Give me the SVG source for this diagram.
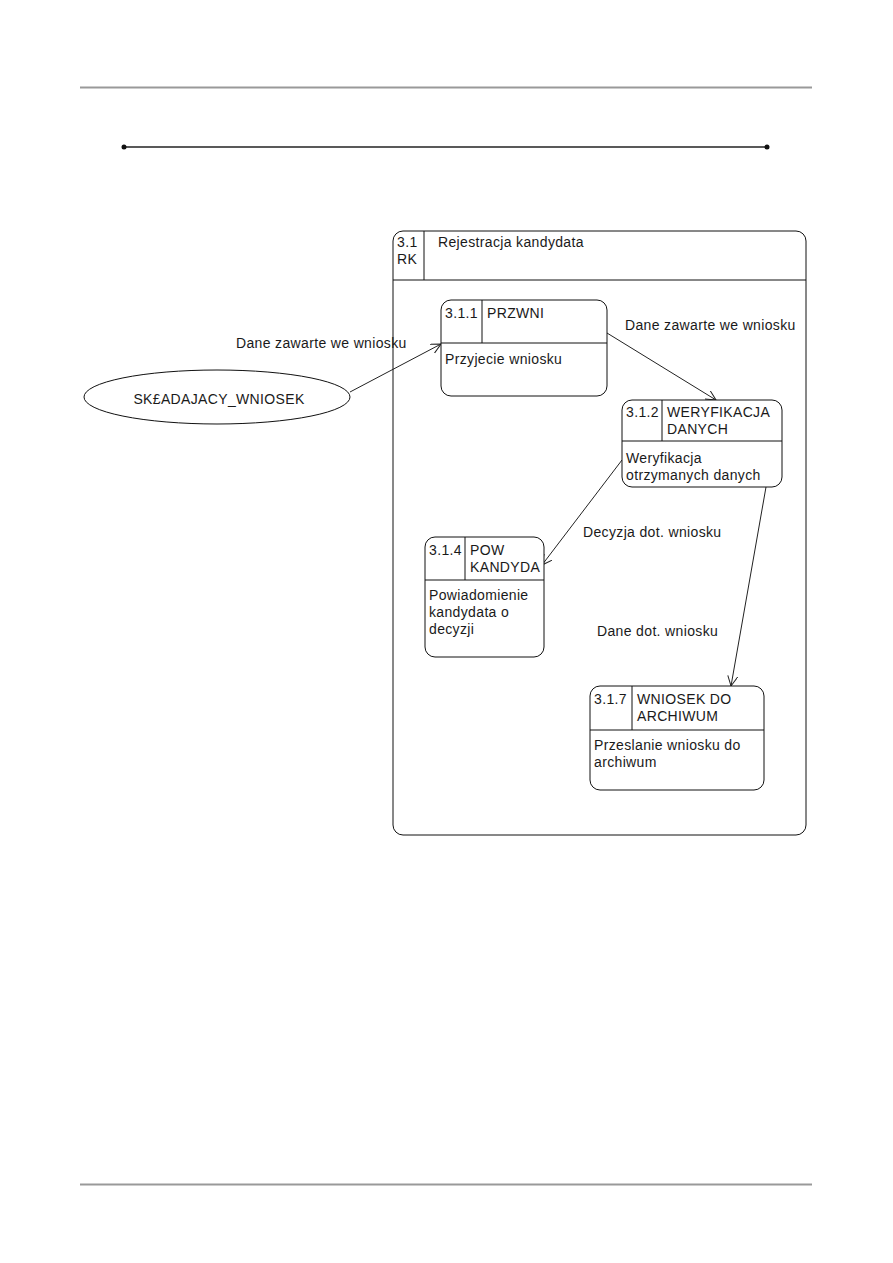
<svg xmlns="http://www.w3.org/2000/svg" width="893" height="1263" viewBox="0 0 893 1263">
<style>
text{font-family:"Liberation Sans",Arial,sans-serif;font-size:14px;letter-spacing:0.35px;fill:#1a1a1a}
.box{fill:#fff;stroke:#111;stroke-width:1}
.ln{stroke:#111;stroke-width:1;fill:none}
.c{stroke:#222;stroke-width:1;fill:none;marker-end:url(#arr)}
</style>
<defs>
<marker id="arr" markerWidth="12" markerHeight="12" refX="10" refY="5" orient="auto" markerUnits="userSpaceOnUse">
<path d="M0,0 L10,5 L0,10" fill="none" stroke="#222" stroke-width="1"/>
</marker>
</defs>
<rect width="893" height="1263" fill="#fff"/>
<line x1="80" y1="87.5" x2="812" y2="87.5" stroke="#999" stroke-width="2"/>
<line x1="80" y1="1184.5" x2="812" y2="1184.5" stroke="#999" stroke-width="2"/>
<g id="titleline">
<line x1="124" y1="147" x2="767" y2="147" stroke="#222" stroke-width="1.5"/>
<circle cx="124" cy="147" r="2.5" fill="#111"/>
<circle cx="767" cy="147" r="2.5" fill="#111"/>
</g>
<g id="container">
<rect class="box" x="393" y="231" width="413" height="604" rx="10"/>
<line class="ln" x1="393" y1="280" x2="806" y2="280"/>
<line class="ln" x1="424" y1="231" x2="424" y2="280"/>
<text x="397" y="247">3.1</text>
<text x="397" y="264">RK</text>
<text x="438" y="247">Rejestracja kandydata</text>
</g>
<g id="connectors">
<line class="c" x1="350" y1="392" x2="441" y2="344"/>
<line class="c" x1="607" y1="333" x2="716" y2="400"/>
<line class="c" x1="622" y1="460" x2="542" y2="565"/>
<line class="c" x1="766" y1="487" x2="731" y2="686"/>
<text x="236" y="348">Dane zawarte we wniosku</text>
<text x="625" y="330">Dane zawarte we wniosku</text>
<text x="583" y="537">Decyzja dot. wniosku</text>
<text x="597" y="636">Dane dot. wniosku</text>
</g>
<g id="actor">
<ellipse class="box" cx="217" cy="397" rx="133" ry="27"/>
<text x="219" y="404" text-anchor="middle">SK£ADAJACY_WNIOSEK</text>
</g>
<g id="n311">
<rect class="box" x="441" y="300" width="166" height="96" rx="10"/>
<line class="ln" x1="441" y1="343" x2="607" y2="343"/>
<line class="ln" x1="482" y1="300" x2="482" y2="343"/>
<text x="445" y="318">3.1.1</text>
<text x="487" y="318">PRZWNI</text>
<text x="445" y="364">Przyjecie wniosku</text>
</g>
<g id="n312">
<rect class="box" x="622" y="400" width="160" height="87" rx="10"/>
<line class="ln" x1="622" y1="441" x2="782" y2="441"/>
<line class="ln" x1="662" y1="400" x2="662" y2="441"/>
<text x="626" y="417">3.1.2</text>
<text x="667" y="417">WERYFIKACJA</text>
<text x="667" y="434">DANYCH</text>
<text x="626" y="463">Weryfikacja</text>
<text x="626" y="480">otrzymanych danych</text>
</g>
<g id="n314">
<rect class="box" x="425" y="537" width="119" height="120" rx="10"/>
<line class="ln" x1="425" y1="580" x2="544" y2="580"/>
<line class="ln" x1="465" y1="537" x2="465" y2="580"/>
<text x="429" y="555">3.1.4</text>
<text x="470" y="555">POW</text>
<text x="470" y="572">KANDYDA</text>
<text x="429" y="600">Powiadomienie</text>
<text x="429" y="617">kandydata o</text>
<text x="429" y="634">decyzji</text>
</g>
<g id="n317">
<rect class="box" x="590" y="686" width="174" height="104" rx="10"/>
<line class="ln" x1="590" y1="730" x2="764" y2="730"/>
<line class="ln" x1="632" y1="686" x2="632" y2="730"/>
<text x="594" y="704">3.1.7</text>
<text x="637" y="704">WNIOSEK DO</text>
<text x="637" y="721">ARCHIWUM</text>
<text x="594" y="750">Przeslanie wniosku do</text>
<text x="594" y="767">archiwum</text>
</g>
</svg>
